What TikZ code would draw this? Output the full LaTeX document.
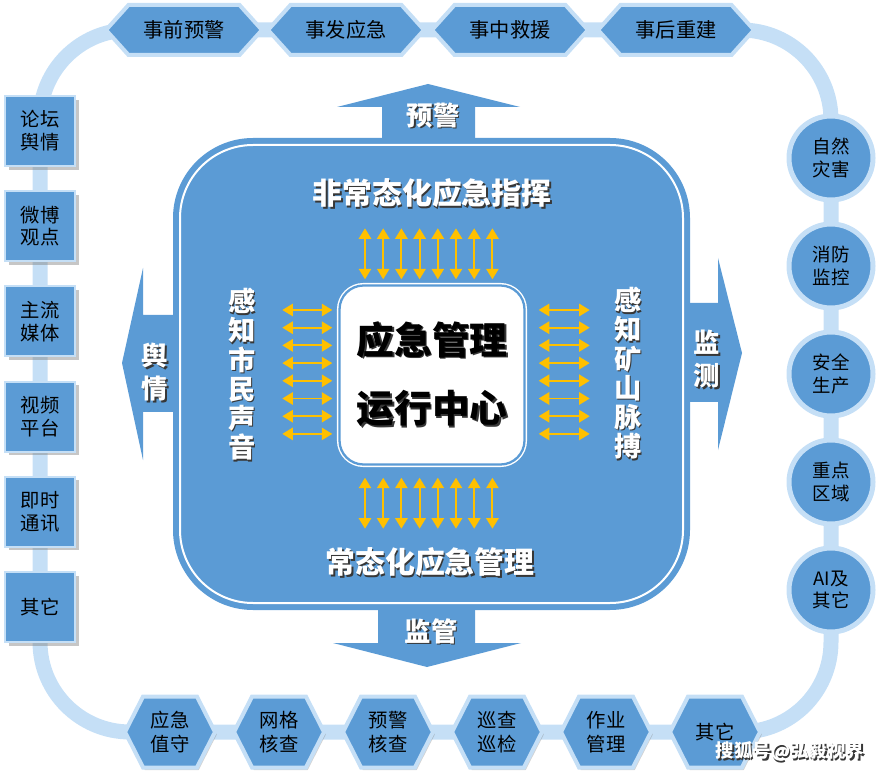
\documentclass[tikz,border=0pt]{standalone}
\usepackage{fontspec}
\setmainfont{Noto Sans CJK SC}
\usetikzlibrary{shapes.symbols,shadows,arrows.meta}

\definecolor{mainblue}{RGB}{91,155,213}
\definecolor{trackblue}{RGB}{197,223,246}
\definecolor{gold}{RGB}{255,192,0}
\definecolor{shadegray}{RGB}{55,55,55}
\newcommand{\px}{0.02cm}
\newcommand{\shd}[1]{\makebox[0pt][l]{\hspace{0.9pt}\raisebox{-0.9pt}{\textcolor{shadegray}{#1}}}#1}

\tikzset{
  track/.style={trackblue, line width=15*\px, rounded corners=90*\px},
  tophex/.style={signal, signal to=east and west, signal pointer angle=96,
    fill=mainblue, draw=trackblue, line width=4*\px, inner sep=0pt,
    minimum width=156*\px, minimum height=50*\px,
    font=\fontsize{11.5}{13}\selectfont},
  bothex/.style={signal, signal to=east and west, signal pointer angle=126,
    fill=mainblue, draw=trackblue, line width=4*\px, inner sep=0pt,
    minimum width=90*\px, minimum height=71*\px, align=center,
    font=\fontsize{11}{13.5}\selectfont,
    drop shadow={shadow xshift=1pt, shadow yshift=-1.5pt, opacity=0.35}},
  srcbox/.style={rectangle, fill=mainblue, draw=trackblue, line width=2*\px,
    minimum width=70*\px, minimum height=70*\px, inner sep=0pt, align=center,
    font=\fontsize{11}{13}\selectfont,
    drop shadow={shadow xshift=2pt, shadow yshift=-2pt, opacity=0.45}},
  sensor/.style={circle, fill=mainblue, draw=trackblue, line width=5*\px,
    minimum size=84*\px, inner sep=0pt, align=center,
    font=\fontsize{10.5}{13}\selectfont},
  core/.style={rectangle, rounded corners=24*\px, fill=white, draw=white,
    double=mainblue, line width=0.8pt, double distance=1.3pt,
    minimum width=185*\px, minimum height=179*\px, align=center,
    font=\fontsize{21.5}{39}\selectfont\bfseries},
  boardtext/.style={white, font=\fontsize{17}{20}\selectfont\bfseries},
  sidetext/.style={white, align=center, font=\fontsize{15.5}{16.6}\selectfont\bfseries},
  arrowtext/.style={white, align=center, font=\fontsize{15}{19}\selectfont\bfseries},
  yarrow/.style={gold, line width=1.1pt, {Triangle[width=7pt,length=6pt]}-{Triangle[width=7pt,length=6pt]}},
  wmtext/.style={white, font=\fontsize{10.5}{12}\selectfont\bfseries}
}

\begin{document}
\begin{tikzpicture}[x=0.02cm, y=-0.02cm]
  \useasboundingbox (0,0) rectangle (879,773);

  % --- Ring track ---
  \draw[track] (40,30) rectangle (831,732);

  % --- Big arrows ---
  \fill[mainblue] (382,145) -- (382,107) -- (337,107) -- (428,84) -- (520,107) -- (475,107) -- (475,145) -- cycle;
  \fill[mainblue] (378,600) -- (378,643) -- (333,643) -- (427,667) -- (521,643) -- (475,643) -- (475,600) -- cycle;
  \fill[mainblue] (180,315) -- (143,315) -- (143,268) -- (122,363) -- (143,460) -- (143,412) -- (180,412) -- cycle;
  \fill[mainblue] (684,303) -- (718,303) -- (718,258) -- (742,353) -- (718,450) -- (718,402) -- (684,402) -- cycle;

  % --- Board ---
  \fill[mainblue, rounded corners=80*\px] (173,138) rectangle (690,610);
  \draw[white, line width=2*\px, rounded corners=73*\px] (180,145) rectangle (683,603);

  % --- Centre ---
  \node[core] (core) at (432,375) {\shd{应急管理}\\\shd{运行中心}};

  \foreach \k in {0,...,7} {
    \draw[yarrow] ([xshift={(18.2*\k-67)*\px}, yshift=5.5*\px]core.north) -- ++(0,-51);
    \draw[yarrow] ([xshift={(18.2*\k-67)*\px}, yshift=-12.5*\px]core.south) -- ++(0,51);
    \draw[yarrow] ([xshift=-6.5*\px, yshift={(65-17.7*\k)*\px}]core.west) -- ++(-50,0);
    \draw[yarrow] ([xshift=13.5*\px, yshift={(65-17.7*\k)*\px}]core.east) -- ++(51,0);
  }

  % board labels
  \node[boardtext] (fcz) at (432,194) {\shd{非常态化应急指挥}};
  \node[boardtext] (cz) at (430,563) {\shd{常态化应急管理}};
  \node[sidetext] (smsy) at (242,375) {\shd{感}\\\shd{知}\\\shd{市}\\\shd{民}\\\shd{声}\\\shd{音}};
  \node[sidetext] (kmmb) at (628,374) {\shd{感}\\\shd{知}\\\shd{矿}\\\shd{山}\\\shd{脉}\\\shd{搏}};

  % arrow labels
  \node[arrowtext] (yj) at (433,116) {\shd{预警}};
  \node[arrowtext] (jg) at (431,632) {\shd{监管}};
  \node[arrowtext] (yq) at (155,373) {\shd{舆}\\\shd{情}};
  \node[arrowtext] (jc) at (707,360) {\shd{监}\\\shd{测}};

  % --- Top: stages ---
  \foreach \x/\t [count=\i] in {184/事前预警, 346/事发应急, 510/事中救援, 676/事后重建}
    \node[tophex] (t\i) at (\x,30) {\t};

  % --- Left: public opinion sources ---
  \foreach \t [count=\i] in {论坛\\舆情, 微博\\观点, 主流\\媒体, 视频\\平台, 即时\\通讯, 其它}
    \node[srcbox] (l\i) at (40,{131+95.2*(\i-1)}) {\t};

  % --- Right: monitoring ---
  \foreach \t [count=\i] in {自然\\灾害, 消防\\监控, 安全\\生产, 重点\\区域, AI及\\其它}
    \node[sensor] (r\i) at (831,{158+108*(\i-1)}) {\t};

  % --- Bottom: supervision ---
  \foreach \t [count=\i] in {应急\\值守, 网格\\核查, 预警\\核查, 巡查\\巡检, 作业\\管理, 其它}
    \node[bothex] (b\i) at ({170+109*(\i-1)},732) {\t};

  % watermark
  \node[wmtext] (wm) at (790,752) {\shd{搜狐号@弘毅视界}};
\end{tikzpicture}
\end{document}
